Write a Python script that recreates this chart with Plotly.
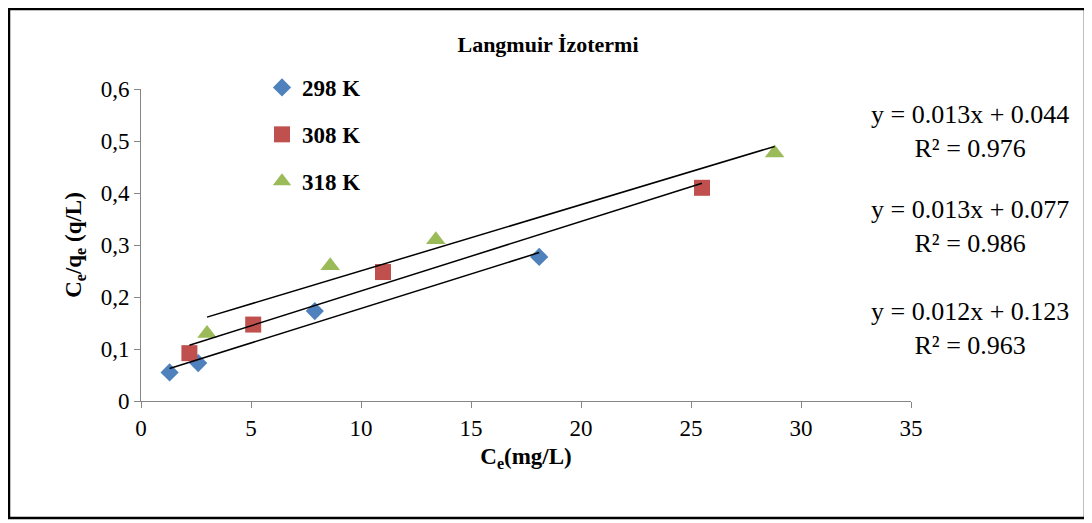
import numpy as np
import plotly.graph_objects as go

# data
x_298 = [1.3, 2.6, 7.9, 18.1]
y_298 = [0.055, 0.073, 0.173, 0.277]
x_308 = [2.2, 5.1, 11.0, 25.5]
y_308 = [0.092, 0.147, 0.248, 0.410]
x_318 = [3.0, 8.6, 13.4, 28.8]
y_318 = [0.130, 0.260, 0.310, 0.477]

equations = [
    "y = 0.013x + 0.044<br>R² = 0.976",
    "y = 0.013x + 0.077<br>R² = 0.986",
    "y = 0.012x + 0.123<br>R² = 0.963",
]

# page body adds an 8px offset, so work in reference pixels minus 8
OFF = 8
W, H = 1084, 515
L, T = 141 - OFF, 89 - OFF
PW, PH = 911 - 141, 401 - 89
R, B = W - L - PW, H - T - PH
FONT = "Liberation Serif, Times New Roman, serif"

series = [
    ("<b>298 K</b>", x_298, y_298, "#4F81BD", "diamond", 14),
    ("<b>308 K</b>", x_308, y_308, "#C0504D", "square", 16),
    ("<b>318 K</b>", x_318, y_318, "#9BBB59", "triangle-up", 17),
]

fig = go.Figure()
for name, xs, ys, col, sym, sz in series:
    fig.add_trace(go.Scatter(
        x=xs, y=ys, mode="markers", name=name, legendgroup=name,
        marker=dict(color=col, symbol=sym, size=sz),
    ))
for name, xs, ys, col, sym, sz in series:
    k, b = np.polyfit(xs, ys, 1)
    xl = np.array([min(xs), max(xs)])
    fig.add_trace(go.Scatter(
        x=xl, y=k * xl + b, mode="lines", showlegend=False,
        line=dict(color="black", width=1.5), hoverinfo="skip",
    ))

def px_x(p):
    return (p - OFF - L) / PW

def px_y(p):
    return (H - B - (p - OFF)) / PH

for txt, yp in zip(equations, [132, 226, 328]):
    fig.add_annotation(
        x=px_x(970), y=px_y(yp), xref="paper", yref="paper", text=txt,
        xanchor="center", yanchor="middle",
        showarrow=False, align="center", font=dict(size=26, color="black", family=FONT),
    )

fig.add_shape(type="rect", xref="paper", yref="paper",
              x0=px_x(9), x1=px_x(1085), y0=px_y(518), y1=px_y(9),
              line=dict(color="black", width=2.5))

fig.update_layout(
    width=W, height=H,
    margin=dict(l=L, r=R, t=T, b=B),
    paper_bgcolor="white", plot_bgcolor="white",
    separators=",.",
    font=dict(family=FONT, size=23, color="black"),
    title=dict(text="<b>Langmuir İzotermi</b>", x=px_x(548), xanchor="center",
               xref="paper", y=1 - (44 - OFF) / H, yanchor="middle", font=dict(size=22)),
    legend=dict(x=px_x(262), y=px_y(66), xanchor="left", yanchor="top",
                font=dict(size=23), tracegroupgap=14, bgcolor="rgba(0,0,0,0)",
                itemwidth=30),
    xaxis=dict(range=[0, 35], dtick=5, showgrid=False, zeroline=False,
               showline=True, linecolor="#868686", ticks="outside", ticklen=6,
               tickcolor="#868686", tickfont=dict(size=23),
               title=dict(text="<b>C<sub>e</sub>(mg/L)</b>", font=dict(size=23), standoff=8)),
    yaxis=dict(range=[0, 0.6], dtick=0.1, showgrid=False, zeroline=False,
               showline=True, linecolor="#868686", ticks="outside", ticklen=6,
               tickcolor="#868686", tickfont=dict(size=23),
               title=dict(text="<b>C<sub>e</sub>/q<sub>e</sub> (q/L)</b>", font=dict(size=23), standoff=12)),
)

fig.write_html("out.html")
